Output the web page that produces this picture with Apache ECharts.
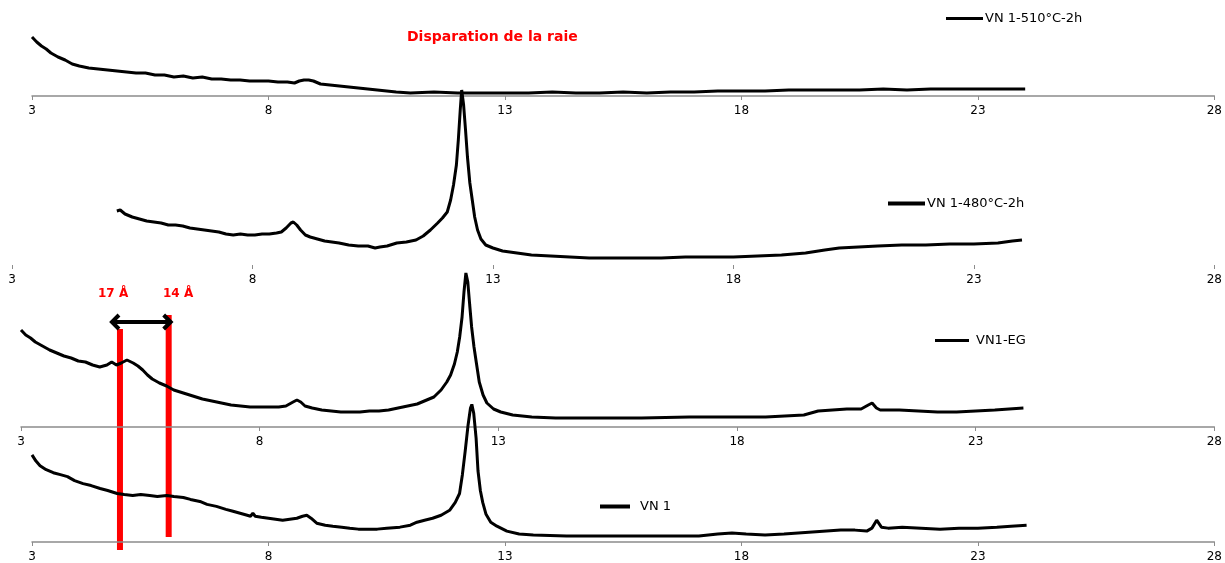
<!DOCTYPE html>
<html>
<head>
<meta charset="utf-8">
<script src="https://cdn.jsdelivr.net/npm/echarts@6/dist/echarts.min.js"></script>
<style>html,body{margin:0;padding:0;background:#fff}#c{width:1225px;height:563px}</style>
</head>
<body>
<div id="c"></div>
<script>
// 2θ (degrees) and intensity (arbitrary units) for each pattern
const tt510 = [3.00,3.10,3.20,3.30,3.40,3.55,3.70,3.85,4.00,4.20,4.40,4.60,4.80,5.00,5.20,5.40,5.60,5.80,6.00,6.20,6.40,6.60,6.80,7.00,7.20,7.40,7.60,7.80,8.00,8.20,8.40,8.55,8.65,8.75,8.85,8.95,9.10,9.30,9.50,9.70,9.90,10.10,10.30,10.50,10.70,11.00,11.50,12.00,12.50,13.00,13.50,14.00,14.50,15.00,15.50,16.00,16.50,17.00,17.50,18.00,18.50,19.00,19.50,20.00,20.50,21.00,21.50,22.00,22.50,23.00,23.50,24.00];
const i510  = [59,54,50,47,43,39,36,32,30,28,27,26,25,24,23,23,21,21,19,20,18,19,17,17,16,16,15,15,15,14,14,13,15,16,16,15,12,11,10,9,8,7,6,5,4,3,4,3,3,3,3,4,3,3,4,3,4,4,5,5,5,6,6,6,6,7,6,7,7,7,7,7];

const tt480 = [5.18,5.25,5.35,5.50,5.65,5.80,5.95,6.10,6.25,6.40,6.55,6.70,6.85,7.00,7.15,7.30,7.45,7.60,7.75,7.90,8.05,8.20,8.35,8.50,8.60,8.70,8.80,8.85,8.92,9.00,9.10,9.20,9.35,9.50,9.65,9.80,10.00,10.20,10.40,10.55,10.65,10.80,11.00,11.20,11.40,11.55,11.70,11.85,11.95,12.05,12.12,12.18,12.24,12.28,12.32,12.35,12.39,12.43,12.47,12.52,12.57,12.62,12.68,12.75,12.85,13.00,13.20,13.50,13.80,14.20,14.60,15.00,15.50,16.00,16.50,17.00,17.50,18.00,18.50,19.00,19.50,19.90,20.20,20.60,21.00,21.50,22.00,22.50,23.00,23.50,23.80,24.00];
const i480  = [54,55,51,48,46,44,43,42,40,40,39,37,36,35,34,33,31,30,31,30,30,31,31,32,33,37,42,43,40,35,30,28,26,24,23,22,20,19,19,17,18,19,22,23,25,29,35,42,47,53,65,80,100,125,155,175,160,135,108,82,65,48,35,26,20,17,14,12,10,9,8,7,7,7,7,8,8,8,9,10,12,15,17,18,19,20,20,21,21,22,24,25];

const ttEG = [3.00,3.10,3.20,3.30,3.45,3.60,3.75,3.90,4.05,4.20,4.35,4.50,4.65,4.80,4.90,5.00,5.10,5.22,5.35,5.45,5.55,5.65,5.75,5.90,6.05,6.20,6.40,6.60,6.80,7.00,7.20,7.40,7.60,7.80,8.00,8.20,8.40,8.55,8.70,8.78,8.86,8.95,9.10,9.30,9.50,9.70,9.90,10.10,10.30,10.50,10.70,10.90,11.10,11.30,11.50,11.65,11.80,11.92,12.00,12.08,12.14,12.19,12.24,12.28,12.32,12.36,12.40,12.44,12.49,12.54,12.60,12.68,12.76,12.90,13.05,13.30,13.70,14.20,15.00,16.00,17.00,18.00,18.60,19.00,19.40,19.70,20.00,20.30,20.60,20.75,20.83,20.92,21.00,21.40,21.80,22.20,22.60,23.00,23.40,23.70,24.00];
const iEG  = [97,92,89,85,81,77,74,71,69,66,65,62,60,62,65,62,64,67,64,61,57,52,48,44,41,37,34,31,28,26,24,22,21,20,20,20,20,21,25,27,25,21,19,17,16,15,15,15,16,16,17,19,21,23,27,30,37,45,52,63,75,90,110,135,154,145,122,100,80,64,45,32,24,18,15,12,10,9,9,9,10,10,10,11,12,16,17,18,18,22,24,19,17,17,16,15,15,16,17,18,19];

const ttVN1 = [3.00,3.08,3.17,3.30,3.45,3.60,3.75,3.90,4.08,4.25,4.44,4.60,4.80,4.95,5.13,5.30,5.49,5.65,5.85,6.00,6.20,6.35,6.55,6.70,6.90,7.10,7.25,7.40,7.55,7.62,7.67,7.72,7.85,8.00,8.15,8.30,8.45,8.60,8.72,8.81,8.90,9.02,9.20,9.36,9.55,9.72,9.90,10.10,10.30,10.50,10.78,11.00,11.14,11.30,11.47,11.65,11.83,11.95,12.04,12.10,12.16,12.22,12.27,12.30,12.34,12.39,12.43,12.48,12.53,12.60,12.70,12.83,13.04,13.30,13.60,14.30,15.00,15.70,16.40,17.10,17.50,17.80,18.10,18.50,18.90,19.20,19.50,19.80,20.10,20.40,20.65,20.76,20.86,20.96,21.10,21.40,21.80,22.20,22.60,23.00,23.40,23.70,24.03];
const iVN1  = [88,82,77,73,70,68,66,62,59,57,54,52,49,48,47,48,47,46,47,46,45,43,41,38,36,33,31,29,27,26,29,26,25,24,23,22,23,24,26,27,24,19,17,16,15,14,13,13,13,14,15,17,20,22,24,27,32,40,49,68,92,118,135,139,130,105,72,52,40,28,20,16,11,8,7,6,6,6,6,6,8,9,8,7,8,9,10,11,12,12,11,14,22,15,14,15,14,13,14,14,15,16,17];

const names = ['VN 1-510°C-2h','VN 1-480°C-2h','VN1-EG','VN 1'];
const xs = [tt510, tt480, ttEG, ttVN1];
const ys = [i510, i480, iEG, iVN1];
const xTicks = [3, 8, 13, 18, 23, 28];

// annotation positions (2θ on VN 1 axis)
const peak17A = 4.86, peak14A = 5.89;

const chart = echarts.init(document.getElementById('c'));
const grids = [
  {left: 32, right: 10, top: 16, height: 80},
  {left: 12, right: 10, top: 65, height: 200},
  {left: 21, right: 10, top: 227, height: 200},
  {left: 32, right: 10, top: 344, height: 200}
];
const axisCol = '#8c8c8c';
const font = 'DejaVu Sans, Verdana, sans-serif';
const xAxes = grids.map((g, i) => ({
  gridIndex: i, type: 'value', min: xTicks[0], max: xTicks[xTicks.length-1], interval: 5,
  axisLine: {show: i !== 1, lineStyle: {color: axisCol, width: 1.5}},
  axisTick: {show: true, length: 4, lineStyle: {color: axisCol, width: 1}},
  splitLine: {show: false},
  axisLabel: {color: '#000', fontSize: 12, fontFamily: font, margin: 9}
}));
const yAxes = grids.map((g, i) => ({gridIndex: i, type: 'value', min: 0, max: g.height, show: false}));
const series = names.map((n, i) => ({
  name: n, type: 'line', xAxisIndex: i, yAxisIndex: i, showSymbol: false, symbol: 'none',
  lineStyle: {color: '#000', width: 3}, itemStyle: {color: '#000'},
  data: xs[i].map((t, k) => [t, ys[i][k]])
}));
const legendPos = [
  {left: 946, top: 12, w: 37, h: 3, gap: 2},
  {left: 888, top: 197, w: 37, h: 4, gap: 2},
  {left: 935, top: 334, w: 34, h: 3, gap: 7},
  {left: 600, top: 500, w: 30, h: 4, gap: 10}
];
const legends = names.map((n, i) => ({
  data: [n], left: legendPos[i].left, top: legendPos[i].top, padding: 0,
  icon: 'rect', itemWidth: legendPos[i].w, itemHeight: legendPos[i].h,
  textStyle: {color: '#000', fontSize: 13, fontFamily: font, padding: [0,0,0,legendPos[i].gap - 5]},
  selectedMode: false
}));

chart.setOption({
  animation: false,
  backgroundColor: '#fff',
  grid: grids,
  xAxis: xAxes,
  yAxis: yAxes,
  legend: legends,
  series: series
});

const x17 = chart.convertToPixel({xAxisIndex: 3}, peak17A);
const x14 = chart.convertToPixel({xAxisIndex: 3}, peak14A);
const ay = 322;
chart.setOption({
  graphic: [
    {type: 'text', left: 407, top: 30, style: {text: 'Disparation de la raie', fill: '#ff0000', font: 'bold 14px ' + font}},
    {type: 'rect', shape: {x: x17 - 3, y: 329, width: 6, height: 221}, style: {fill: '#ff0000'}},
    {type: 'rect', shape: {x: x14 - 3, y: 315, width: 6, height: 222}, style: {fill: '#ff0000'}},
    {type: 'text', left: 98, top: 288, style: {text: '17 Å', fill: '#ff0000', font: 'bold 12px ' + font}},
    {type: 'text', left: 163, top: 288, style: {text: '14 Å', fill: '#ff0000', font: 'bold 12px ' + font}},
    {type: 'polyline', shape: {points: [[x17 - 8, ay], [x14 + 2, ay]]}, style: {stroke: '#000', lineWidth: 4}},
    {type: 'polyline', shape: {points: [[x17 - 1, ay - 7], [x17 - 8, ay], [x17 - 1, ay + 7]]}, style: {stroke: '#000', lineWidth: 4, fill: null}},
    {type: 'polyline', shape: {points: [[x14 - 5, ay - 7], [x14 + 2, ay], [x14 - 5, ay + 7]]}, style: {stroke: '#000', lineWidth: 4, fill: null}}
  ]
});
</script>
</body>
</html>
